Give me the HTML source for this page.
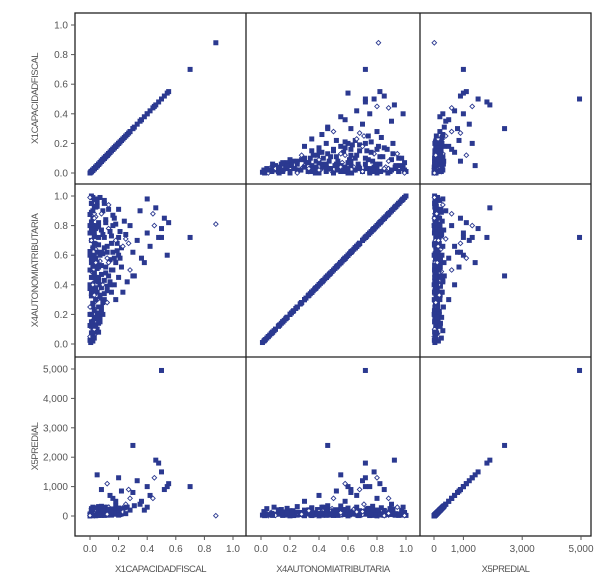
<!DOCTYPE html>
<html><head><meta charset="utf-8"><style>
body{margin:0;background:#fff;}
svg text{font-family:"Liberation Sans",sans-serif;fill:#555;}
</style></head><body>
<svg id="chart" width="601" height="581" viewBox="0 0 601 581" xmlns="http://www.w3.org/2000/svg"></svg>
<script>
const varNames = ["X1CAPACIDADFISCAL","X4AUTONOMIATRIBUTARIA","X5PREDIAL"];
const x1Ticks = [0,0.2,0.4,0.6,0.8,1.0];
const x1TickLabels = ["0.0","0.2","0.4","0.6","0.8","1.0"];
const x5YTicks = [0,1000,2000,3000,4000,5000];
const x5YTickLabels = ["0","1,000","2,000","3,000","4,000","5,000"];
const x5XTicks = [0,1000,3000,5000];
const x5XTickLabels = ["0","1,000","3,000","5,000"];
const obsText = "0.005,0.01,30 0.01,0.03,80 0.02,0.02,150 0.03,0.04,250 0.015,0.06,40 0.04,0.07,120 0.02,0.09,300 0.05,0.10,60 0.01,0.12,180 0.03,0.13,90 0.06,0.14,220 0.02,0.16,50 0.04,0.17,140 0.07,0.18,260 0.01,0.20,100 0.05,0.21,30 0.08,0.22,180 0.03,0.24,70 0.06,0.25,320 0.02,0.27,120 0.09,0.28,60 0.04,0.30,200 0.07,0.31,90 0.01,0.33,40 0.10,0.34,150 0.05,0.35,280 0.03,0.37,60 0.08,0.38,110 0.12,0.39,220 0.02,0.41,170 0.06,0.42,40 0.10,0.43,300 0.04,0.45,80 0.13,0.46,190 0.08,0.47,30 0.01,0.49,250 0.15,0.50,120 0.05,0.51,60 0.11,0.52,210 0.03,0.54,100 0.18,0.55,340 0.07,0.56,50 0.14,0.57,160 0.02,0.59,90 0.20,0.60,270 0.09,0.61,40 0.16,0.62,130 0.04,0.64,230 0.22,0.65,70 0.12,0.66,300 0.06,0.67,20 0.19,0.68,180 0.01,0.70,110 0.25,0.71,400 0.10,0.72,60 0.15,0.73,240 0.03,0.75,150 0.21,0.76,90 0.08,0.77,330 0.13,0.78,40 0.02,0.80,200 0.18,0.81,120 0.06,0.82,60 0.24,0.83,280 0.11,0.84,30 0.04,0.86,170 0.16,0.87,90 0.01,0.89,250 0.09,0.90,50 0.20,0.91,140 0.03,0.93,80 0.13,0.94,300 0.05,0.96,30 0.10,0.97,190 0.02,0.99,60 0.07,0.99,120 0.01,1.00,20 0.00,0.05,10 0.01,0.15,20 0.02,0.25,30 0.01,0.35,15 0.02,0.45,25 0.01,0.55,35 0.02,0.65,45 0.01,0.75,15 0.02,0.85,25 0.01,0.95,35 0.03,0.08,20 0.03,0.18,30 0.03,0.28,40 0.04,0.38,50 0.03,0.48,60 0.04,0.58,70 0.03,0.68,80 0.04,0.78,20 0.03,0.88,30 0.04,0.98,40 0.00,0.40,5 0.00,0.60,5 0.00,0.80,5 0.00,0.20,5 0.05,0.30,50 0.05,0.44,90 0.05,0.62,130 0.06,0.72,170 0.06,0.52,210 0.07,0.40,150 0.28,0.50,600 0.30,0.62,800 0.33,0.70,1200 0.36,0.58,500 0.40,0.75,1000 0.42,0.66,700 0.45,0.80,1300 0.48,0.72,1800 0.52,0.85,900 0.35,0.90,400 0.26,0.42,300 0.38,0.55,200 0.44,0.88,600 0.50,0.78,1500 0.55,0.82,1100 0.23,0.35,250 0.31,0.46,350 0.46,0.92,1900 0.27,0.68,900 0.40,0.98,300 0.54,0.60,1000 0.14,0.40,700 0.18,0.30,500 0.22,0.52,850 0.12,0.58,1100 0.20,0.72,1300 0.16,0.80,600 0.05,0.55,1400 0.08,0.62,900 0.70,0.72,1000 0.88,0.81,10 0.50,0.72,4950 0.30,0.46,2400 0.00,0.025,12 0.02,0.05,45 0.01,0.075,90 0.03,0.10,20 0.00,0.125,60 0.02,0.15,110 0.04,0.175,35 0.01,0.20,75 0.03,0.225,15 0.00,0.25,95 0.02,0.275,50 0.04,0.30,10 0.01,0.325,85 0.03,0.35,30 0.00,0.375,65 0.02,0.40,105 0.04,0.425,25 0.01,0.45,55 0.03,0.475,80 0.00,0.50,18 0.02,0.525,70 0.04,0.55,40 0.01,0.575,100 0.03,0.60,28 0.00,0.625,62 0.02,0.65,88 0.04,0.675,14 0.01,0.70,48 0.03,0.725,92 0.00,0.75,22 0.02,0.775,66 0.04,0.80,36 0.01,0.825,78 0.03,0.85,12 0.00,0.875,54 0.02,0.90,98 0.04,0.925,26 0.01,0.95,68 0.03,0.975,42 0.00,0.99,16 0.06,0.20,40 0.08,0.25,130 0.10,0.30,70 0.07,0.33,210 0.12,0.36,30 0.09,0.40,160 0.14,0.42,90 0.06,0.45,240 0.11,0.48,50 0.16,0.50,180 0.08,0.53,20 0.13,0.55,110 0.17,0.58,60 0.07,0.60,200 0.12,0.62,140 0.10,0.65,80 0.15,0.68,30 0.18,0.70,150 0.09,0.74,260 0.14,0.76,70 0.06,0.79,120 0.11,0.82,40 0.17,0.85,190 0.08,0.88,90 0.13,0.91,230 0.05,0.93,60 0.10,0.95,20 0.19,0.63,100 0.21,0.58,50 0.23,0.66,140 0.25,0.74,80 0.28,0.80,200 0.20,0.45,30 0.17,0.40,90 0.15,0.35,120 0.12,0.28,60 0.09,0.20,180 0.07,0.15,30 0.05,0.18,90 0.06,0.08,40 0.04,0.12,210 0.03,0.33,180 0.02,0.57,220 0.01,0.77,190";
const observations = obsText.split(" ").map(s => s.split(",").map(Number));

const NS = "http://www.w3.org/2000/svg";
const svg = document.getElementById("chart");
function mk(tag, attrs, parent) {
  const e = document.createElementNS(NS, tag);
  for (const k in attrs) e.setAttribute(k, attrs[k]);
  (parent || svg).appendChild(e);
  return e;
}
const colEdges = [75, 246, 420, 591];
const rowEdges = [13, 184, 357, 536];
const colScale = [
  v => 90 + v * 143,
  v => 261 + v * 145,
  v => 434 + v / 5000 * 147
];
const rowScale = [
  v => 173 - v * 148,
  v => 344 - v * 148,
  v => 516 - v / 5000 * 147
];
const blue = "#2b3990";

for (let r = 0; r < 3; r++) {
  for (let c = 0; c < 3; c++) {
    const g = mk("g", {});
    
    
    observations.forEach((o, i) => {
      const px = colScale[c](o[c]), py = rowScale[r](o[r]);
      let m;
      if (i % 6 === 5 && r !== c) {
        m = mk("path", {d: `M${px} ${py-2.3}L${px+2.3} ${py}L${px} ${py+2.3}L${px-2.3} ${py}Z`, fill: "#fff", stroke: blue, "stroke-width": 0.9}, g);
      } else {
        m = mk("rect", {x: px - 2.5, y: py - 2.5, width: 5, height: 5, fill: blue}, g);
      }
      
      
    });
  }
}
const frame = mk("rect", {x: 75, y: 13, width: 516, height: 523, fill: "none", stroke: "#222", "stroke-width": 1.3});


[246, 420].forEach(x => {
  const l = mk("line", {x1: x, y1: 13, x2: x, y2: 536, stroke: "#222", "stroke-width": 1.3});
  
  
});
[184, 357].forEach(y => {
  const l = mk("line", {x1: 75, y1: y, x2: 591, y2: y, stroke: "#222", "stroke-width": 1.3});
  
  
});
function yTicks(r, ticks, labels) {
  ticks.forEach((t, i) => {
    const y = rowScale[r](t);
    const l = mk("line", {x1: 71, y1: y, x2: 75, y2: y, stroke: "#555"});
    
    
    const tx = mk("text", {x: 68, y: y + 3.5, "text-anchor": "end", "font-size": 10});
    tx.textContent = labels[i];
    
    
  });
}
yTicks(0, x1Ticks, x1TickLabels);
yTicks(1, x1Ticks, x1TickLabels);
yTicks(2, x5YTicks, x5YTickLabels);
function xTicks(c, ticks, labels) {
  ticks.forEach((t, i) => {
    const x = colScale[c](t);
    const l = mk("line", {x1: x, y1: 536, x2: x, y2: 540, stroke: "#555"});
    
    
    const tx = mk("text", {x: x, y: 552, "text-anchor": "middle", "font-size": 10});
    tx.textContent = labels[i];
    
    
  });
}
xTicks(0, x1Ticks, x1TickLabels);
xTicks(1, x1Ticks, x1TickLabels);
xTicks(2, x5XTicks, x5XTickLabels);
varNames.forEach((n, i) => {
  const cx = (colEdges[i] + colEdges[i + 1]) / 2;
  const t = mk("text", {x: cx, y: 572, "text-anchor": "middle", "font-size": 9.5, "letter-spacing": "-0.5"});
  t.textContent = n;
  
  
  const cy = (rowEdges[i] + rowEdges[i + 1]) / 2;
  const t2 = mk("text", {x: 0, y: 0, "text-anchor": "middle", "font-size": 9.5, "letter-spacing": "-0.5", transform: `translate(38,${cy}) rotate(-90)`});
  t2.textContent = n;
  
  
});
</script>
</body></html>
